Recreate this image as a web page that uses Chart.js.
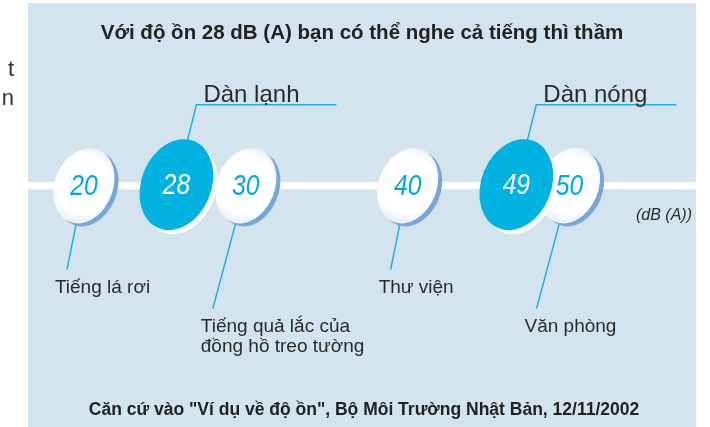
<!DOCTYPE html>
<html>
<head>
<meta charset="utf-8">
<script src="https://cdn.jsdelivr.net/npm/chart.js@4.4.1/dist/chart.umd.min.js"></script>
<style>
  html, body { margin: 0; background: #fff; }
  canvas { display: block; }
</style>
</head>
<body>
<canvas id="noiseChart" width="710" height="427"></canvas>
<script>
// --- DATA ---
const refLevels = [20, 30, 40, 50];
const refLabels = [['Tiếng lá rơi'], ['Tiếng quả lắc của', 'đồng hồ treo tường'], ['Thư viện'], ['Văn phòng']];
const unitLevels = [28, 49];
const unitLabels = ['Dàn lạnh', 'Dàn nóng'];
const titleText = 'Với độ ồn 28 dB (A) bạn có thể nghe cả tiếng thì thầm';
const sourceText = 'Căn cứ vào "Ví dụ về độ ồn", Bộ Môi Trường Nhật Bản, 12/11/2002';
const unitText = '(dB (A))';

// --- STYLE ---
const PANEL = '#d3e4ef';
const CYAN = '#00b3e0';
const NUM_CYAN = '#00a9de';
const SHADOW = '#78a7d6';
const INK = '#2a2a2a';
const TILT = 22 * Math.PI / 180;

function oval(ctx, x, y, rx, ry, fill) {
  ctx.beginPath();
  ctx.ellipse(x, y, rx, ry, TILT, 0, Math.PI * 2);
  ctx.fillStyle = fill;
  ctx.fill();
}

function number(ctx, x, y, txt, color) {
  ctx.save();
  ctx.translate(x, y);
  ctx.scale(0.82, 1);
  ctx.font = 'italic 30px "Liberation Sans", Arial, sans-serif';
  ctx.fillStyle = color;
  ctx.textAlign = 'center';
  ctx.textBaseline = 'middle';
  ctx.fillText(txt, 0, 1);
  ctx.restore();
}

const noiseArt = {
  id: 'noiseArt',
  afterDatasetsDraw(chart) {
    const ctx = chart.ctx;
    const y0 = chart.scales.y.getPixelForValue(0);
    const refs = chart.getDatasetMeta(0).data;
    const units = chart.getDatasetMeta(1).data;
    ctx.save();

    // panel + axis band
    ctx.fillStyle = PANEL;
    ctx.fillRect(28, 3, 668, 424);
    ctx.fillStyle = '#fff';
    ctx.fillRect(28, y0 - 3.5, 668, 7);

    // page text cut at the left margin
    ctx.fillStyle = '#333';
    ctx.font = '22px "Liberation Sans", Arial, sans-serif';
    ctx.textAlign = 'right';
    ctx.textBaseline = 'alphabetic';
    ctx.fillText('t', 14, 76);
    ctx.fillText('n', 14, 105);

    // leaders below the reference ovals (short / long alternately)
    ctx.strokeStyle = '#19b2e3';
    ctx.lineWidth = 1.5;
    refs.forEach((el, i) => {
      const dx = i % 2 ? -33 : -17, dy = i % 2 ? 123 : 84;
      ctx.beginPath();
      ctx.moveTo(el.x, el.y);
      ctx.lineTo(el.x + dx, el.y + dy);
      ctx.stroke();
      ctx.fillStyle = INK;
      ctx.font = '19px "Liberation Sans", Arial, sans-serif';
      ctx.textAlign = 'left';
      refLabels[i].forEach((line, k) => {
        ctx.fillText(line, el.x + dx - 12, el.y + dy + 23 + k * 20);
      });
    });

    // reference ovals
    refs.forEach((el, i) => {
      oval(ctx, el.x + 4, el.y + 3, 29, 39, SHADOW);
      const g = ctx.createRadialGradient(el.x - 6, el.y - 8, 4, el.x, el.y, 40);
      g.addColorStop(0, '#ffffff');
      g.addColorStop(0.7, '#ffffff');
      g.addColorStop(1, '#e4eef7');
      oval(ctx, el.x, el.y, 29, 39, g);
      number(ctx, el.x, el.y, String(refLevels[i]), NUM_CYAN);
    });

    // unit ovals: right edge sits on the value
    units.forEach((el, i) => {
      const cx = el.x - 37, cy = el.y - 1;
      ctx.beginPath();
      ctx.moveTo(cx, cy);
      ctx.lineTo(cx + 20, cy - 80);
      ctx.lineTo(cx + 160, cy - 80);
      ctx.strokeStyle = '#19b2e3';
      ctx.lineWidth = 1.5;
      ctx.stroke();
      ctx.fillStyle = INK;
      ctx.font = '24px "Liberation Sans", Arial, sans-serif';
      ctx.textAlign = 'left';
      ctx.fillText(unitLabels[i], cx + 27, cy - 83);

      oval(ctx, cx + 4, cy + 4, 35, 47, '#ffffff');
      oval(ctx, cx, cy, 35, 47, CYAN);
      number(ctx, cx, cy, String(unitLevels[i]), '#ffffff');
    });

    // unit, title, source
    ctx.fillStyle = INK;
    ctx.font = 'italic 16px "Liberation Sans", Arial, sans-serif';
    ctx.textAlign = 'right';
    ctx.fillText(unitText, 692, 220);

    ctx.textAlign = 'center';
    ctx.fillStyle = '#222';
    ctx.font = 'bold 20.5px "Liberation Sans", Arial, sans-serif';
    ctx.fillText(titleText, 362, 39);
    ctx.font = 'bold 17.5px "Liberation Sans", Arial, sans-serif';
    ctx.fillText(sourceText, 364, 415);
    ctx.restore();
  }
};

new Chart(document.getElementById('noiseChart'), {
  type: 'scatter',
  data: {
    datasets: [
      { label: 'Tham chiếu', data: refLevels.map(v => ({ x: v, y: 0 })), pointRadius: 0 },
      { label: 'Điều hòa', data: unitLevels.map(v => ({ x: v, y: 0 })), pointRadius: 0 }
    ]
  },
  options: {
    responsive: false,
    animation: false,
    events: [],
    layout: { padding: { left: 3, right: 11, top: 0, bottom: 0 } },
    scales: {
      x: { type: 'linear', min: 15, max: 58, display: false },
      y: { type: 'linear', min: -1.3, max: 1, display: false }
    },
    plugins: {
      legend: { display: false },
      tooltip: { enabled: false }
    }
  },
  plugins: [noiseArt]
});
</script>
</body>
</html>
